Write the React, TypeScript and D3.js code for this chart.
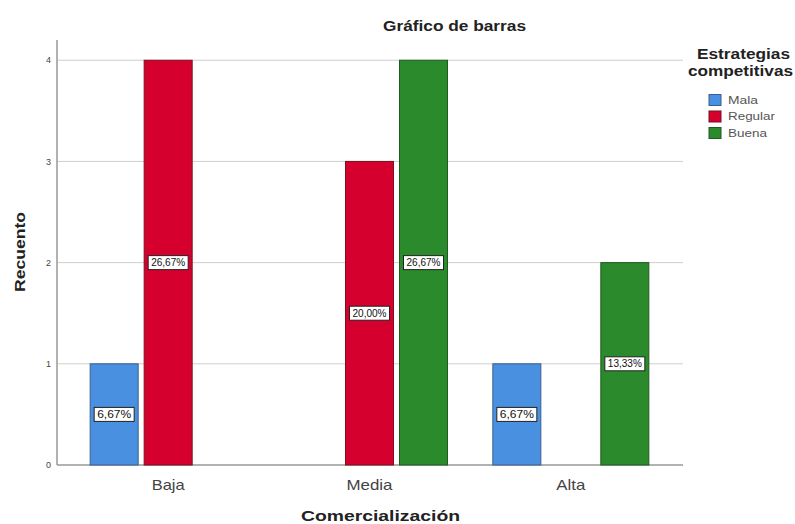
import React from "react";
import * as d3 from "d3";

// Counts by commercialization level, split by competitive-strategy rating
const categories = ["Baja", "Media", "Alta"];
const series = ["Mala", "Regular", "Buena"];
const malaCounts = [1, 0, 1];
const regularCounts = [4, 3, 0];
const buenaCounts = [0, 4, 2];
const malaPct = ["6,67%", "", "6,67%"];
const regularPct = ["26,67%", "20,00%", ""];
const buenaPct = ["", "26,67%", "13,33%"];
const yTicks = [0, 1, 2, 3, 4];

const colors = ["#4a90e0", "#d6002f", "#2a8a2c"];
const strokes = ["#3a5f8e", "#7a1020", "#1f5a20"];

const W = 795;
const H = 524;
const plotLeft = 57;
const plotRight = 683;
const plotTop = 40;
const plotBottom = 465;

export default function App() {
  const y = d3.scaleLinear().domain([0, 4.2]).range([plotBottom, plotTop]);
  const x0 = d3.scaleBand<string>().domain(categories).range([67.5, 671.5]);
  const x1 = d3
    .scaleBand<string>()
    .domain(series)
    .range([0, 162])
    .paddingInner(0.111)
    .paddingOuter(0.0555);

  const valuesBySeries = [malaCounts, regularCounts, buenaCounts];
  const pctBySeries = [malaPct, regularPct, buenaPct];

  const bars: { cx: number; x: number; v: number; s: number; label: string }[] = [];
  categories.forEach((c, ci) => {
    const groupStart = (x0(c) ?? 0) + x0.bandwidth() / 2 - 81;
    series.forEach((s, si) => {
      const v = valuesBySeries[si][ci];
      if (v > 0) {
        const bx = groupStart + (x1(s) ?? 0);
        bars.push({ cx: bx + x1.bandwidth() / 2, x: bx, v, s: si, label: pctBySeries[si][ci] });
      }
    });
  });

  const font = "'Liberation Sans', Arial, sans-serif";
  const catWidths: Record<string, number> = { Baja: 33, Media: 46, Alta: 29 };
  const legendWidths = [30, 47, 39];

  return (
    <svg
      width={W}
      height={H}
      style={{ position: "absolute", left: 0, top: 0, background: "#fff" }}
      fontFamily={font}
    >
      <rect x={0} y={0} width={W} height={H} fill="#fff" />
      <text
        x={383}
        y={31}
        fontSize={14}
        fontWeight="bold"
        fill="#222"
        textLength={143}
        lengthAdjust="spacingAndGlyphs"
      >
        Gráfico de barras
      </text>

      {/* gridlines */}
      {yTicks.map((t) => (
        <line
          key={t}
          x1={plotLeft}
          x2={plotRight}
          y1={y(t)}
          y2={y(t)}
          stroke={t === 0 ? "#999" : "#cfcfcf"}
          strokeWidth={t === 0 ? 1.5 : 1}
        />
      ))}
      <line x1={plotLeft} x2={plotLeft} y1={plotTop} y2={plotBottom} stroke="#999" strokeWidth={1.5} />

      {yTicks.map((t) => (
        <text key={t} x={51} y={y(t)} dy="0.35em" textAnchor="end" fontSize={9} fill="#444">
          {t}
        </text>
      ))}

      {bars.map((b, i) => (
        <rect
          key={i}
          x={b.x}
          y={y(b.v)}
          width={x1.bandwidth()}
          height={y(0) - y(b.v)}
          fill={colors[b.s]}
          stroke={strokes[b.s]}
          strokeWidth={1}
        />
      ))}

      {bars.map((b, i) => (
        <g key={"l" + i} transform={`translate(${b.cx},${y(b.v / 2)})`}>
          <rect x={-20} y={-7} width={40} height={14} fill="#fff" stroke="#222" strokeWidth={1} />
          <text
            x={-17}
            y={0}
            dy="0.35em"
            fontSize={10}
            fill="#111"
            textLength={34}
            lengthAdjust="spacingAndGlyphs"
          >
            {b.label}
          </text>
        </g>
      ))}

      {categories.map((c) => (
        <text
          key={c}
          x={(x0(c) ?? 0) + x0.bandwidth() / 2 - catWidths[c] / 2}
          y={490}
          fontSize={15}
          fill="#444"
          textLength={catWidths[c]}
          lengthAdjust="spacingAndGlyphs"
        >
          {c}
        </text>
      ))}

      <text
        x={301}
        y={521}
        fontSize={14}
        fontWeight="bold"
        fill="#222"
        textLength={159}
        lengthAdjust="spacingAndGlyphs"
      >
        Comercialización
      </text>
      <text
        transform={`translate(25,292) rotate(-90)`}
        fontSize={14}
        fontWeight="bold"
        fill="#222"
        textLength={80}
        lengthAdjust="spacingAndGlyphs"
      >
        Recuento
      </text>

      {/* legend */}
      <text
        x={697}
        y={59}
        fontSize={14}
        fontWeight="bold"
        fill="#222"
        textLength={93}
        lengthAdjust="spacingAndGlyphs"
      >
        Estrategias
      </text>
      <text
        x={688}
        y={76}
        fontSize={14}
        fontWeight="bold"
        fill="#222"
        textLength={105}
        lengthAdjust="spacingAndGlyphs"
      >
        competitivas
      </text>
      {series.map((s, i) => (
        <g key={s} transform={`translate(709,${100 + i * 16.5})`}>
          <rect x={0} y={-5.5} width={12} height={11} fill={colors[i]} stroke={strokes[i]} strokeWidth={1} />
          <text
            x={19}
            y={0}
            dy="0.35em"
            fontSize={11}
            fill="#555"
            textLength={legendWidths[i]}
            lengthAdjust="spacingAndGlyphs"
          >
            {s}
          </text>
        </g>
      ))}
    </svg>
  );
}
